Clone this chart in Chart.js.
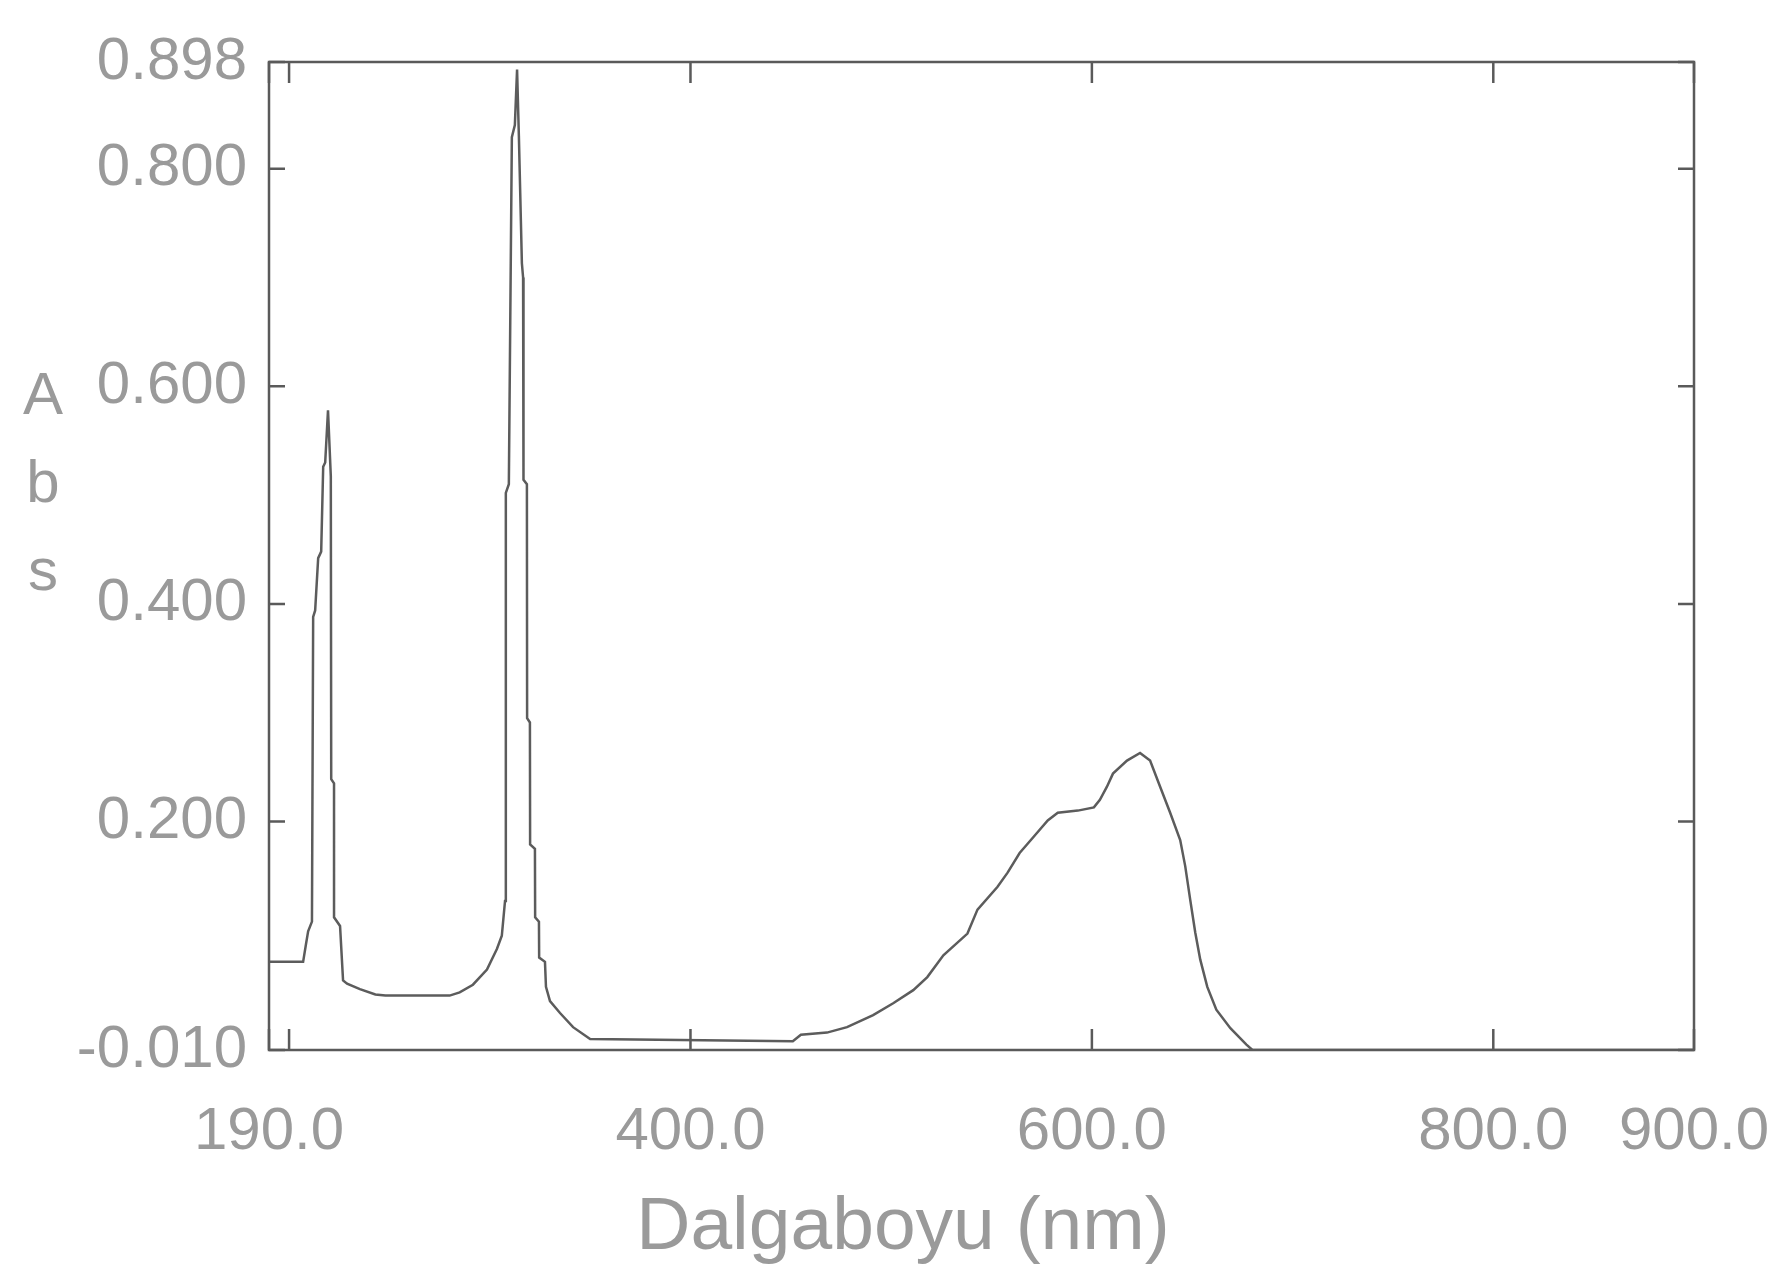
<!DOCTYPE html>
<html>
<head>
<meta charset="utf-8">
<title>Abs spektrumu</title>
<script src="https://cdn.jsdelivr.net/npm/chart.js@4.4.0/dist/chart.umd.min.js"></script>
<style>
  html, body { margin: 0; padding: 0; background: #fff; }
</style>
</head>
<body>
<canvas id="spektrum" width="1779" height="1279"></canvas>
<script>
// ============================================================
// VERİ — okunan spektrum değerleri
// ============================================================

// Dalgaboyu (nm)
const WAVELENGTH = [
  190, 207, 208.4, 209.5, 211.4, 212, 213, 214.5, 216, 217, 218, 219.4,
  220.8, 221, 222.4, 222.4, 225.4, 226.9, 228.9, 235.3, 243, 248, 280, 285,
  291.6, 298.6, 303.6, 306, 307.6, 308, 309.5, 311, 312.5, 313.6, 314.5, 316,
  316.6, 316.8, 318.5, 318.6, 320, 320.1, 322.5, 322.6, 324.5, 324.6, 327.5, 328,
  330, 335, 341.5, 350, 451, 455, 468, 478, 491, 501, 511, 518,
  526, 538, 543, 553, 558, 564, 571, 578, 583, 593, 601, 604,
  607.5, 610.5, 617.5, 624, 629, 634, 639, 644, 646.5, 649, 651.5, 654,
  657.5, 662, 669, 677, 680, 900,
];

// Absorbans
const ABSORBANCE = [
  0.071, 0.071, 0.087, 0.099, 0.108, 0.388, 0.394, 0.442, 0.448, 0.526, 0.530, 0.578,
  0.517, 0.239, 0.235, 0.112, 0.104, 0.054, 0.051, 0.046, 0.041, 0.040, 0.040, 0.043,
  0.050, 0.064, 0.083, 0.095, 0.127, 0.502, 0.510, 0.829, 0.840, 0.891, 0.830, 0.713,
  0.700, 0.514, 0.510, 0.295, 0.291, 0.179, 0.175, 0.112, 0.108, 0.075, 0.071, 0.048,
  0.035, 0.024, 0.011, 0.000, -0.002, 0.004, 0.006, 0.011, 0.022, 0.033, 0.045, 0.057,
  0.077, 0.097, 0.119, 0.140, 0.153, 0.171, 0.186, 0.201, 0.208, 0.210, 0.213, 0.220,
  0.232, 0.244, 0.256, 0.263, 0.256, 0.232, 0.208, 0.183, 0.159, 0.128, 0.098, 0.073,
  0.048, 0.027, 0.010, -0.005, -0.010, -0.010,
];

// Eksen işaretleri ve etiketleri
const X_TICKS = [190, 200, 400, 600, 800, 900];
const X_TICK_LABELS = ['190.0', '', '400.0', '600.0', '800.0', '900.0'];
const Y_TICKS = [-0.010, 0.200, 0.400, 0.600, 0.800, 0.898];
const Y_TICK_LABELS = ['-0.010', '0.200', '0.400', '0.600', '0.800', '0.898'];

const X_TITLE = 'Dalgaboyu (nm)';
const Y_TITLE = 'Abs';

// ============================================================
// STİL
// ============================================================

const TEXT_COLOR = '#9a9a9a';
const LINE_COLOR = '#5c5c5c';
const FRAME_COLOR = '#5a5a5a';
const FONT = "'Liberation Sans', Arial, sans-serif";

/** Çerçeve, içe dönük işaret çizgileri ve eksen başlıkları */
const framePlugin = {
  id: 'frame',
  afterDatasetsDraw(chart) {
    const { ctx, chartArea: a, scales: { x, y } } = chart;
    ctx.save();
    ctx.strokeStyle = FRAME_COLOR;
    ctx.lineWidth = 2.5;
    ctx.strokeRect(a.left, a.top, a.right - a.left, a.bottom - a.top);

    ctx.beginPath();
    x.ticks.forEach(t => {
      const px = x.getPixelForValue(t.value);
      ctx.moveTo(px, a.bottom); ctx.lineTo(px, a.bottom - 21);
      ctx.moveTo(px, a.top);    ctx.lineTo(px, a.top + 21);
    });
    y.ticks.forEach(t => {
      const py = y.getPixelForValue(t.value);
      ctx.moveTo(a.left, py);  ctx.lineTo(a.left + 16, py);
      ctx.moveTo(a.right, py); ctx.lineTo(a.right - 16, py);
    });
    ctx.stroke();

    ctx.fillStyle = TEXT_COLOR;
    ctx.textAlign = 'center';
    ctx.textBaseline = 'middle';

    // Y ekseni başlığı: harfler alt alta
    ctx.font = `60px ${FONT}`;
    Y_TITLE.split('').forEach((ch, i) => {
      ctx.fillText(ch, a.left - 226, a.top + 335 + i * 88);
    });

    // X ekseni başlığı (orijinalde biraz sola kaymış)
    ctx.font = `75px ${FONT}`;
    ctx.fillText(X_TITLE, a.left + 634, a.bottom + 178);
    ctx.restore();
  },
};

const points = WAVELENGTH.map((w, i) => ({ x: w, y: ABSORBANCE[i] }));

new Chart(document.getElementById('spektrum'), {
  type: 'line',
  data: {
    datasets: [{
      data: points,
      borderColor: LINE_COLOR,
      borderWidth: 2.5,
      pointRadius: 0,
      tension: 0,
      fill: false,
    }],
  },
  options: {
    responsive: false,
    animation: false,
    events: [],
    layout: { padding: { left: 0, right: 85, top: 62, bottom: 0 } },
    plugins: {
      legend: { display: false },
      tooltip: { enabled: false },
    },
    scales: {
      x: {
        type: 'linear',
        min: 190,
        max: 900,
        afterBuildTicks: scale => { scale.ticks = X_TICKS.map(v => ({ value: v })); },
        afterFit: scale => {
          scale.height = 229;
          // Etiket taşması için ek boşluk bırakma
          scale.paddingLeft = 0;
          scale.paddingRight = 0;
        },
        grid: { display: false, drawTicks: false },
        border: { display: false },
        ticks: {
          autoSkip: false,
          maxRotation: 0,
          padding: 46,
          color: TEXT_COLOR,
          font: { family: FONT, size: 60 },
          callback: (val, i) => X_TICK_LABELS[i],
        },
      },
      y: {
        type: 'linear',
        min: -0.010,
        max: 0.898,
        afterBuildTicks: scale => { scale.ticks = Y_TICKS.map(v => ({ value: v })); },
        afterFit: scale => {
          scale.width = 269;
          scale.paddingTop = 0;
          scale.paddingBottom = 0;
        },
        grid: { display: false, drawTicks: false },
        border: { display: false },
        ticks: {
          autoSkip: false,
          padding: 22,
          color: TEXT_COLOR,
          font: { family: FONT, size: 60 },
          callback: (val, i) => Y_TICK_LABELS[i],
        },
      },
    },
  },
  plugins: [framePlugin],
});
</script>
</body>
</html>
